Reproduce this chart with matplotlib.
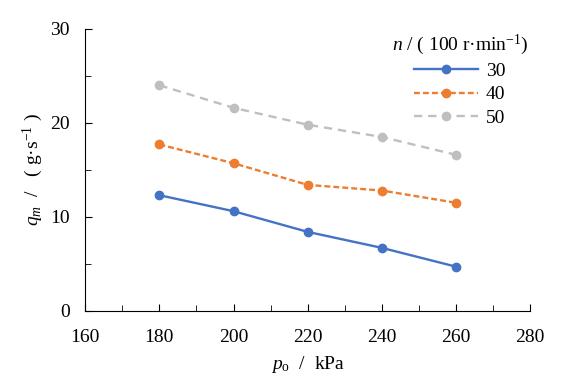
import matplotlib
matplotlib.use("Agg")
import matplotlib.pyplot as plt
from matplotlib.ticker import MultipleLocator

plt.rcParams['font.family'] = ['Liberation Serif', 'DejaVu Sans']
plt.rcParams['mathtext.fontset'] = 'custom'
plt.rcParams['mathtext.rm'] = 'Liberation Serif'
plt.rcParams['mathtext.it'] = 'Liberation Serif:italic'

pressure = [180, 200, 220, 240, 260]
flow_30 = [12.3, 10.6, 8.4, 6.7, 4.7]
flow_40 = [17.7, 15.7, 13.4, 12.8, 11.5]
flow_50 = [24.0, 21.6, 19.8, 18.5, 16.6]
speeds = ['30', '40', '50']

fig = plt.figure(figsize=(5.8, 3.9), dpi=100)
ax = fig.add_axes([0.147, 0.203, 0.767, 0.723])

ax.plot(pressure, flow_30, '-', color='#4472C4', lw=1.7, marker='o', ms=6, label=speeds[0])
ax.plot(pressure, flow_40, '--', color='#ED7D31', lw=1.7, marker='o', ms=6, label=speeds[1], dashes=(2.5, 1.3))
ax.plot(pressure, flow_50, '--', color='#BFBFBF', lw=1.7, marker='o', ms=6, label=speeds[2], dashes=(3.5, 2.5))

ax.set_xlim(160, 280)
ax.set_ylim(0, 30)
ax.xaxis.set_major_locator(MultipleLocator(20))
ax.xaxis.set_minor_locator(MultipleLocator(10))
ax.yaxis.set_major_locator(MultipleLocator(10))
ax.yaxis.set_minor_locator(MultipleLocator(5))
ax.tick_params(which='both', direction='in', labelsize=14, color='black')
ax.tick_params(which='major', length=5)
ax.tick_params(which='minor', length=4)
ax.tick_params(axis='x', pad=13)
ax.tick_params(axis='y', pad=11)
for s in ['top', 'right']:
    ax.spines[s].set_visible(False)

ax.set_xlabel(r'$p_\mathrm{o}$  /  kPa', fontsize=14, labelpad=6)
ax.set_ylabel(r'$q_m$  /   ( g·s$^{-1}$ )', fontsize=14, labelpad=4)

leg = ax.legend(title=r'$n$ / ( 100 r·min$^{-1}$)', frameon=False, fontsize=14,
                title_fontsize=14, loc='upper right', bbox_to_anchor=(1.035, 1.05),
                handlelength=3.3, markerfirst=True, labelspacing=0.3, handletextpad=0.4)
leg._legend_box.align = 'center'

fig.savefig('out.png', dpi=100)
